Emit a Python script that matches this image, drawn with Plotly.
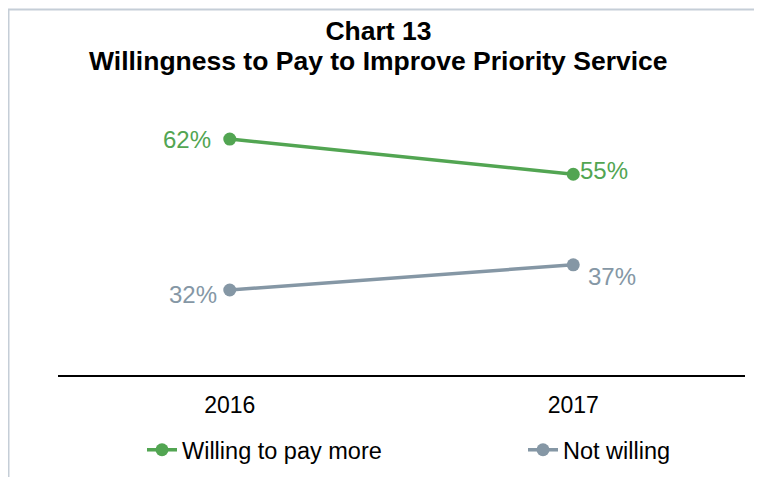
import plotly.graph_objects as go

years = ["2016", "2017"]
willing = [62, 55]
not_willing = [32, 37]
willing_labels = ["62%", "55%"]
not_willing_labels = ["32%", "37%"]

GREEN = "#52A552"
GRAY = "#8597A5"
FONT = "Liberation Sans, Arial, sans-serif"

OFF = 8  # browser body margin
W, H = 762 - OFF, 477 - OFF
ML = 58 - OFF
MR = W - (745 - OFF)
MT = 50 - OFF
MB = H - (375 - OFF)
PW = W - ML - MR
PH = H - MT - MB


def px_x(px):
    return (px - OFF - ML) / PW


def px_y(py):
    return (H - MB - (py - OFF)) / PH


xpos = list(range(len(years)))

fig = go.Figure()
fig.add_trace(go.Scatter(
    x=xpos, y=willing, name="Willing to pay more",
    mode="lines+markers",
    line=dict(color=GREEN, width=3.5),
    marker=dict(color=GREEN, size=13),
    legend="legend",
))
fig.add_trace(go.Scatter(
    x=xpos, y=not_willing, name="Not willing",
    mode="lines+markers",
    line=dict(color=GRAY, width=3.5),
    marker=dict(color=GRAY, size=13),
    legend="legend2",
))

# data labels (placement offsets per point)
label_specs = [
    (xpos[0], willing[0], willing_labels[0], GREEN, "right", -17, 0),
    (xpos[1], willing[1], willing_labels[1], GREEN, "left", 5, 4),
    (xpos[0], not_willing[0], not_willing_labels[0], GRAY, "right", -11, -5),
    (xpos[1], not_willing[1], not_willing_labels[1], GRAY, "left", 13, -12),
]
for xv, yv, txt, col, anc, dx, dy in label_specs:
    fig.add_annotation(
        x=xv, y=yv, xref="x", yref="y", text=txt, showarrow=False,
        xanchor=anc, yanchor="middle", xshift=dx, yshift=dy,
        font=dict(color=col, size=24, family=FONT),
    )

# second title line
fig.add_annotation(
    x=px_x(378.5), y=px_y(61), xref="paper", yref="paper",
    text="<b>Willingness to Pay to Improve Priority Service</b>",
    showarrow=False, xanchor="center", yanchor="middle",
    font=dict(size=26.5, family=FONT, color="black"),
)

fig.update_layout(
    width=W, height=H,
    margin=dict(l=ML, r=MR, t=MT, b=MB, autoexpand=False),
    paper_bgcolor="white", plot_bgcolor="white",
    font=dict(family=FONT, color="black"),
    title=dict(
        text="<b>Chart 13</b>",
        x=(378.5 - OFF) / W, xanchor="center", xref="container",
        y=1 - (31 - OFF) / H, yanchor="middle", yref="container",
        font=dict(size=26.5, family=FONT, color="black"),
    ),
    xaxis=dict(
        range=[-0.5, 1.5], tickvals=xpos, ticktext=years,
        showgrid=False, zeroline=False,
        showline=True, linecolor="black", linewidth=1.5,
        ticks="", ticklabelstandoff=9,
        tickfont=dict(size=23, family=FONT, color="black"),
    ),
    yaxis=dict(
        range=[15.1, 79.7], visible=False, showgrid=False, zeroline=False,
    ),
    showlegend=True,
    legend=dict(
        orientation="h", x=px_x(142), xanchor="left",
        y=px_y(450), yanchor="middle",
        font=dict(size=23.5, family=FONT, color="black"),
        itemclick=False, bgcolor="rgba(0,0,0,0)",
    ),
    legend2=dict(
        orientation="h", x=px_x(523), xanchor="left",
        y=px_y(450), yanchor="middle",
        font=dict(size=23.5, family=FONT, color="black"),
        itemclick=False, bgcolor="rgba(0,0,0,0)",
    ),
    shapes=[
        dict(type="line", xref="paper", yref="paper",
             x0=px_x(8.5), x1=px_x(8.5), y0=px_y(9), y1=px_y(480),
             line=dict(color="#C5CED7", width=2)),
        dict(type="line", xref="paper", yref="paper",
             x0=px_x(8), x1=px_x(765), y0=px_y(9.5), y1=px_y(9.5),
             line=dict(color="#C5CED7", width=2)),
    ],
)

fig.write_html("out.html")
